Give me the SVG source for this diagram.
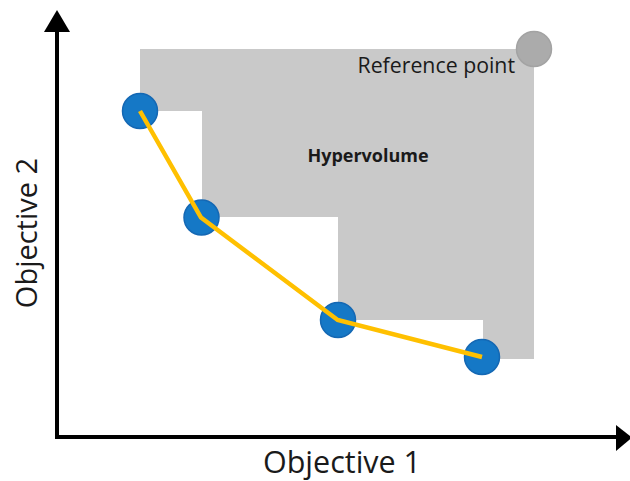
<svg xmlns="http://www.w3.org/2000/svg" width="630" height="481" viewBox="0 0 630 481">
<style>
.lbl{font-family:"Open Sans","Noto Sans","Liberation Sans",sans-serif;fill:#1a1a1a}
.pt{fill:#1578C6;stroke:#1468B4;stroke-width:1.5}
</style>
<rect width="630" height="481" fill="#fff"/>
<g id="hypervolume">
<polygon points="140,49 534,49 534,359 483,359 483,320 338,320 338,217 202,217 202,111 140,111" fill="#C9C9C9"/>
<text class="lbl" x="368" y="162" font-size="18" font-weight="bold" text-anchor="middle">Hypervolume</text>
</g>
<g id="axes">
<line x1="57" y1="437" x2="57" y2="30" stroke="#000" stroke-width="4"/>
<polygon points="57,10 44,32 70,32" fill="#000"/>
<line x1="55" y1="437" x2="618" y2="437" stroke="#000" stroke-width="4"/>
<polygon points="632,437.5 616,425 616,451" fill="#000"/>
<text class="lbl" x="342" y="472.5" font-size="30.5" text-anchor="middle">Objective 1</text>
<text class="lbl" transform="translate(37,233) rotate(-90)" font-size="29" text-anchor="middle">Objective 2</text>
</g>
<g id="p1"><circle class="pt" cx="140" cy="111" r="17.5"/></g>
<g id="p2"><circle class="pt" cx="201.5" cy="217.5" r="17.5"/></g>
<g id="p3"><circle class="pt" cx="338" cy="320" r="17.5"/></g>
<g id="p4"><circle class="pt" cx="482" cy="357" r="17.5"/></g>
<g id="connectors">
<polyline points="140,111 201,217.5 337.7,320 482,357" fill="none" stroke="#FFC000" stroke-width="4.5"/>
</g>
<g id="refpoint">
<circle cx="534" cy="49" r="17.5" fill="#ABABAB" stroke="#A3A3A3" stroke-width="1.5"/>
<text class="lbl" x="515" y="73" font-size="21.3" text-anchor="end">Reference point</text>
</g>
</svg>
